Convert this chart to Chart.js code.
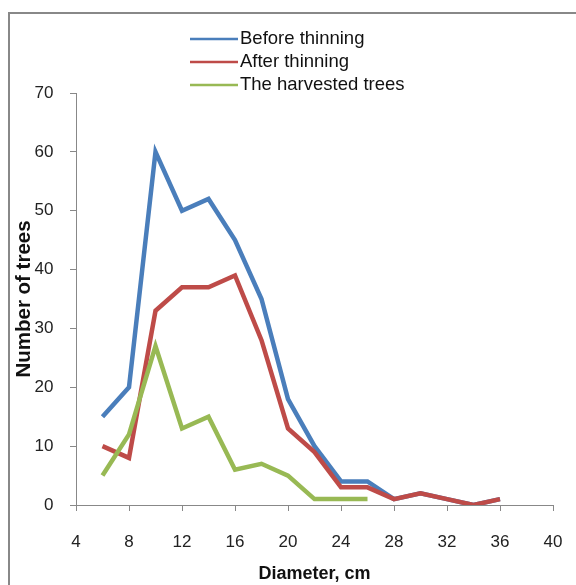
<!DOCTYPE html>
<html>
<head>
<meta charset="utf-8">
<script src="https://cdn.jsdelivr.net/npm/chart.js@4/dist/chart.umd.min.js"></script>
<style>
  html, body { margin: 0; padding: 0; background: #fff; }
  #wrap { position: relative; width: 576px; height: 585px; }
</style>
</head>
<body>
<div id="wrap"><canvas id="c" width="576" height="585"></canvas></div>
<script>
// ---- data ----
const diameters = [6, 8, 10, 12, 14, 16, 18, 20, 22, 24, 26, 28, 30, 32, 34, 36];
const harvestDiameters = [6, 8, 10, 12, 14, 16, 18, 20, 22, 24, 26];
const beforeThinning = [15, 20, 60, 50, 52, 45, 35, 18, 10, 4, 4, 1, 2, 1, 0, 1];
const afterThinning = [10, 8, 33, 37, 37, 39, 28, 13, 9, 3, 3, 1, 2, 1, 0, 1];
const harvestedTrees = [5, 12, 27, 13, 15, 6, 7, 5, 1, 1, 1];
const seriesLabels = ['Before thinning', 'After thinning', 'The harvested trees'];
const xTicks = [4, 8, 12, 16, 20, 24, 28, 32, 36, 40];
const yTicks = [0, 10, 20, 30, 40, 50, 60, 70];
const xTitle = 'Diameter, cm';
const yTitle = 'Number of trees';

const colors = ['#4A7EBB', '#BE4B48', '#98B954'];
const toPts = (xs, ys) => xs.map((x, i) => ({ x: x, y: ys[i] }));
const SANS = '"Liberation Sans", Arial, sans-serif';

const framePlugin = {
  id: 'frame',
  beforeDraw(chart) {
    const ctx = chart.ctx;
    ctx.save();
    ctx.fillStyle = '#fff';
    ctx.fillRect(0, 0, chart.width, chart.height);
    ctx.fillStyle = '#888';
    ctx.fillRect(8, 12, 2, chart.height - 12);
    ctx.fillRect(8, 12, chart.width - 8, 2);
    ctx.restore();
  }
};

const legendPlugin = {
  id: 'vlegend',
  afterDraw(chart) {
    const ctx = chart.ctx;
    ctx.save();
    const ds = chart.data.datasets;
    const rows = [39, 62, 85];
    ds.forEach((d, i) => {
      ctx.strokeStyle = d.borderColor;
      ctx.lineWidth = 2.5;
      ctx.beginPath();
      ctx.moveTo(190, rows[i]);
      ctx.lineTo(238, rows[i]);
      ctx.stroke();
      ctx.fillStyle = '#111';
      ctx.font = '18.5px ' + SANS;
      ctx.textAlign = 'left';
      ctx.textBaseline = 'middle';
      ctx.fillText(d.label, 240, rows[i]);
    });
    ctx.restore();
  }
};

new Chart(document.getElementById('c'), {
  type: 'line',
  data: {
    datasets: [
      { label: seriesLabels[0], data: toPts(diameters, beforeThinning), borderColor: colors[0], order: 3 },
      { label: seriesLabels[1], data: toPts(diameters, afterThinning), borderColor: colors[1], order: 2 },
      { label: seriesLabels[2], data: toPts(harvestDiameters, harvestedTrees), borderColor: colors[2], order: 1 }
    ]
  },
  options: {
    responsive: false,
    animation: false,
    devicePixelRatio: 1,
    layout: { padding: { left: 0, top: 93, right: 23, bottom: 0 } },
    elements: {
      line: { borderWidth: 4.5, tension: 0, fill: false, borderCapStyle: 'butt', borderJoinStyle: 'miter' },
      point: { radius: 0, hoverRadius: 0 }
    },
    plugins: { legend: { display: false }, tooltip: { enabled: false } },
    scales: {
      x: {
        type: 'linear',
        min: xTicks[0],
        max: xTicks[xTicks.length - 1],
        afterBuildTicks: (s) => { s.ticks = xTicks.map(v => ({ value: v })); },
        afterFit: (s) => { s.height = 80; s.paddingLeft = 0; s.paddingRight = 0; },
        grid: { drawOnChartArea: false, drawTicks: true, tickLength: 6, color: '#888' },
        border: { display: true, color: '#888', width: 1 },
        ticks: { color: '#222', padding: 21, maxRotation: 0, autoSkip: false,
                 font: { family: SANS, size: 17 } },
        title: { display: true, text: xTitle, color: '#111', padding: { top: 0, bottom: 0 },
                 font: { family: SANS, size: 18, weight: 'bold' } }
      },
      y: {
        type: 'linear',
        min: yTicks[0],
        max: yTicks[yTicks.length - 1],
        afterBuildTicks: (s) => { s.ticks = yTicks.map(v => ({ value: v })); },
        afterFit: (s) => { s.width = 76; s.paddingTop = 0; s.paddingBottom = 0; },
        grid: { drawOnChartArea: false, drawTicks: true, tickLength: 6, color: '#888' },
        border: { display: true, color: '#888', width: 1 },
        ticks: { color: '#222', padding: 16.5, autoSkip: false,
                 font: { family: SANS, size: 17 } },
        title: { display: true, text: yTitle, color: '#111', padding: { top: 12, bottom: 0 },
                 font: { family: SANS, size: 20.5, weight: 'bold' } }
      }
    }
  },
  plugins: [framePlugin, legendPlugin]
});
</script>
</body>
</html>
